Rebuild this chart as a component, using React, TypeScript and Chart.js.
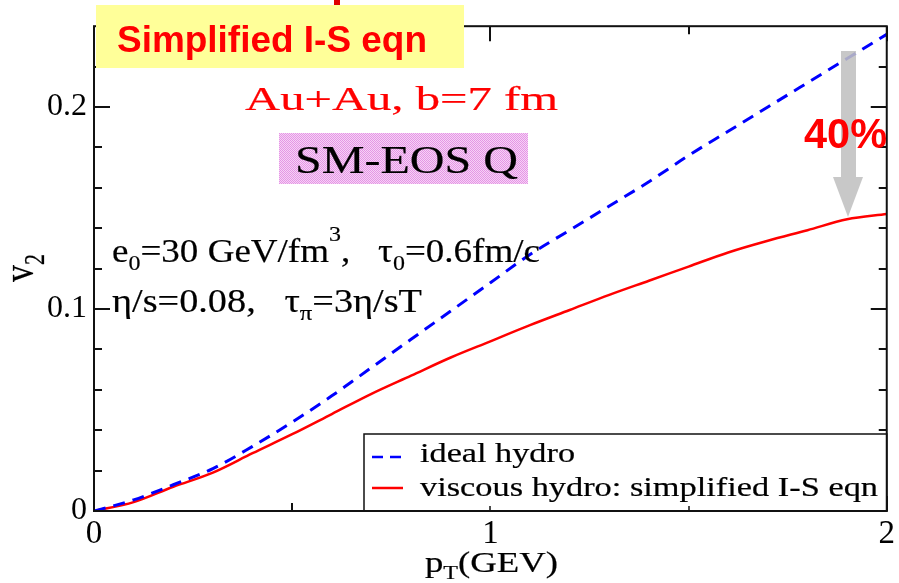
import { useEffect, useRef } from 'react';
import { Chart, registerables } from 'chart.js';

Chart.register(...registerables);

// ---- data ----
const pT = [0, 0.1, 0.2, 0.3, 0.4, 0.5, 0.6, 0.7, 0.8, 0.9, 1.0, 1.1, 1.2, 1.3, 1.4, 1.5, 1.6, 1.7, 1.8, 1.9, 2.0];
const idealHydro = [0, 0.0055, 0.013, 0.021, 0.032, 0.044, 0.057, 0.071, 0.085, 0.099, 0.113, 0.127, 0.139, 0.151, 0.163, 0.176, 0.188, 0.2, 0.212, 0.224, 0.236];
const viscousHydro = [0, 0.0044, 0.012, 0.019, 0.0286, 0.038, 0.048, 0.058, 0.067, 0.076, 0.084, 0.092, 0.0995, 0.107, 0.114, 0.121, 0.128, 0.1338, 0.139, 0.1444, 0.147];
const seriesLabels = ['ideal hydro', 'viscous hydro: simplified I-S eqn'];
const xMajorTicks = [0, 1, 2];
const xMinorTicks = [0.5, 1.5];
const yMajorTicks = [0, 0.1, 0.2];
const yMinorTicks = [0.02, 0.04, 0.06, 0.08, 0.12, 0.14, 0.16, 0.18, 0.22];

const SERIF = '"Liberation Serif", "Times New Roman", Times, serif';
const SANS = '"Liberation Sans", Arial, Helvetica, sans-serif';

type Seg = { t: string; k?: 'sub' | 'sup' };

function drawRich(
  ctx: CanvasRenderingContext2D,
  segs: Seg[],
  o: { x: number; y: number; size: number; family: string; weight?: string; color: string; width?: number; sx?: number; rotate?: boolean; stroke?: number }
) {
  ctx.save();
  const w = o.weight || 'normal';
  const fontFor = (s: Seg) => `${w} ${s.k ? Math.round(o.size * 0.66) : o.size}px ${o.family}`;
  const widths = segs.map((s) => {
    ctx.font = fontFor(s);
    return ctx.measureText(s.t).width;
  });
  const total = widths.reduce((a, b) => a + b, 0);
  const sx = o.sx ?? (o.width ? o.width / total : 1);
  ctx.translate(o.x, o.y);
  ctx.scale(sx, 1);
  if (o.rotate) ctx.rotate(-Math.PI / 2);
  ctx.fillStyle = o.color;
  ctx.strokeStyle = o.color;
  ctx.lineWidth = o.stroke || 0;
  ctx.lineJoin = 'round';
  ctx.textAlign = 'left';
  ctx.textBaseline = 'alphabetic';
  let cx = 0;
  segs.forEach((s, i) => {
    ctx.font = fontFor(s);
    const dy = s.k === 'sub' ? o.size * 0.24 : s.k === 'sup' ? -o.size * 0.62 : 0;
    ctx.fillText(s.t, cx, dy);
    if (o.stroke) ctx.strokeText(s.t, cx, dy);
    cx += widths[i];
  });
  ctx.restore();
}

const decorPlugin = {
  id: 'decor',
  afterDraw(chart: any) {
    const ctx: CanvasRenderingContext2D = chart.ctx;
    const { left, right, top, bottom } = chart.chartArea;
    const xs = chart.scales.x;
    const ys = chart.scales.y;
    ctx.save();

    // ticks (inward, on all four sides)
    ctx.strokeStyle = '#111';
    ctx.lineWidth = 2;
    const MAJ = 15;
    const MIN = 8;
    const tickX = (v: number, len: number) => {
      const px = Math.round(xs.getPixelForValue(v));
      ctx.beginPath();
      ctx.moveTo(px, bottom);
      ctx.lineTo(px, bottom - len);
      ctx.moveTo(px, top);
      ctx.lineTo(px, top + len);
      ctx.stroke();
    };
    const tickY = (v: number, len: number) => {
      const py = Math.round(ys.getPixelForValue(v));
      ctx.beginPath();
      ctx.moveTo(left, py);
      ctx.lineTo(left + len, py);
      ctx.moveTo(right, py);
      ctx.lineTo(right - len, py);
      ctx.stroke();
    };
    xMajorTicks.forEach((v) => tickX(v, MAJ));
    xMinorTicks.forEach((v) => tickX(v, MIN));
    yMajorTicks.forEach((v) => tickY(v, MAJ + 1));
    yMinorTicks.forEach((v) => tickY(v, MIN));

    // legend box
    const lgL = 364, lgT = 434;
    ctx.fillStyle = '#fff';
    ctx.fillRect(lgL, lgT, right - lgL, bottom - lgT);
    ctx.lineWidth = 1.5;
    ctx.strokeStyle = '#111';
    ctx.strokeRect(lgL, lgT, right - lgL, bottom - lgT);
    // tick stubs visible over the legend
    [1, 1.5].forEach((v) => {
      const px = Math.round(xs.getPixelForValue(v));
      ctx.beginPath();
      ctx.moveTo(px, bottom);
      ctx.lineTo(px, bottom - 5);
      ctx.stroke();
    });
    const ds = chart.data.datasets;
    const rowsY = [457, 488];
    const baseY = [462, 496];
    const tw = [155, 458];
    ds.forEach((d: any, i: number) => {
      ctx.beginPath();
      ctx.strokeStyle = d.borderColor;
      ctx.lineWidth = 2.5;
      ctx.setLineDash(i === 0 ? [11, 7] : []);
      ctx.moveTo(372, rowsY[i]);
      ctx.lineTo(403, rowsY[i]);
      ctx.stroke();
      ctx.setLineDash([]);
      drawRich(ctx, [{ t: d.label }], { x: 420, y: baseY[i], size: 27, family: SERIF, color: '#000', width: tw[i], stroke: 0.2 });
    });

    // frame
    ctx.lineWidth = 2;
    ctx.strokeStyle = '#111';
    ctx.strokeRect(left, top, right - left, bottom - top);

    // axis titles
    drawRich(ctx, [{ t: 'p' }, { t: 'T', k: 'sub' }, { t: '(GEV)' }], { x: 425, y: 572, size: 29, family: SERIF, color: '#000', width: 133, stroke: 0.2 });
    drawRich(ctx, [{ t: 'v' }, { t: '2', k: 'sub' }], { x: 33, y: 282, size: 34, family: SERIF, color: '#000', sx: 1.3, rotate: true, stroke: 0.2 });

    // annotation lines
    drawRich(ctx, [
      { t: 'e' }, { t: '0', k: 'sub' }, { t: '=30 GeV/fm' }, { t: '3', k: 'sup' }, { t: ',   \u03c4' }, { t: '0', k: 'sub' }, { t: '=0.6fm/c' },
    ], { x: 112, y: 262, size: 34, family: SERIF, color: '#000', width: 428, stroke: 0.2 });
    drawRich(ctx, [
      { t: '\u03b7/s=0.08,   \u03c4' }, { t: '\u03c0', k: 'sub' }, { t: '=3\u03b7/sT' },
    ], { x: 112, y: 312, size: 34, family: SERIF, color: '#000', width: 310, stroke: 0.2 });

    drawRich(ctx, [{ t: 'Au+Au, b=7 fm' }], { x: 245, y: 110, size: 33, family: SERIF, color: '#ff0000', width: 313, stroke: 0.2 });

    // pink box
    const pc = document.createElement('canvas');
    pc.width = 2; pc.height = 2;
    const pcx = pc.getContext('2d')!;
    pcx.fillStyle = '#f6d2f6'; pcx.fillRect(0, 0, 2, 2);
    pcx.fillStyle = '#e596e5'; pcx.fillRect(0, 0, 1, 1); pcx.fillRect(1, 1, 1, 1);
    const pat = ctx.createPattern(pc, 'repeat');
    ctx.fillStyle = pat || '#eeb5ee';
    ctx.fillRect(279, 133, 249, 51);
    drawRich(ctx, [{ t: 'SM-EOS Q' }], { x: 295, y: 173, size: 40, family: SERIF, color: '#000', width: 223, stroke: 0.2 });

    // yellow box + title
    ctx.fillStyle = '#ffff99';
    ctx.fillRect(96, 5, 368, 63);
    drawRich(ctx, [{ t: 'Simplified I-S eqn' }], { x: 117, y: 52, size: 37, family: SANS, weight: 'bold', color: '#ff0000', width: 310 });
    ctx.fillStyle = '#e00000';
    ctx.fillRect(334, 0, 6, 5);

    // grey arrow
    ctx.fillStyle = 'rgba(192,192,192,0.88)';
    ctx.beginPath();
    ctx.moveTo(841, 51);
    ctx.lineTo(856, 51);
    ctx.lineTo(856, 177);
    ctx.lineTo(863, 177);
    ctx.lineTo(848, 217);
    ctx.lineTo(833, 177);
    ctx.lineTo(841, 177);
    ctx.closePath();
    ctx.fill();
    drawRich(ctx, [{ t: '40%' }], { x: 804, y: 148, size: 42, family: SANS, weight: 'bold', color: '#ff0000', width: 83 });

    ctx.restore();
  },
};

export default function App() {
  const ref = useRef<HTMLCanvasElement | null>(null);
  useEffect(() => {
    if (!ref.current) return;
    const chart = new Chart(ref.current, {
      type: 'line',
      data: {
        datasets: [
          {
            label: seriesLabels[0],
            data: pT.map((x, i) => ({ x, y: idealHydro[i] })),
            borderColor: '#0000ff',
            borderDash: [12, 8],
            borderWidth: 3,
            pointRadius: 0,
            cubicInterpolationMode: 'monotone',
            fill: false,
          },
          {
            label: seriesLabels[1],
            data: pT.map((x, i) => ({ x, y: viscousHydro[i] })),
            borderColor: '#ff0000',
            borderWidth: 2.5,
            pointRadius: 0,
            cubicInterpolationMode: 'monotone',
            fill: false,
          },
        ],
      },
      options: {
        animation: false,
        responsive: true,
        maintainAspectRatio: false,
        layout: { padding: { top: 24, right: 11, bottom: 0, left: 0 } },
        plugins: { legend: { display: false }, tooltip: { enabled: false } },
        scales: {
          x: {
            type: 'linear',
            min: 0,
            max: 2,
            grid: { display: false, drawTicks: false },
            border: { display: false },
            ticks: {
              stepSize: 1,
              includeBounds: false,
              padding: 4,
              color: '#000',
              font: { family: SERIF, size: 33 },
              callback: (v: any) => String(v),
            },
            afterFit: (s: any) => { s.height = 72; },
          },
          y: {
            type: 'linear',
            min: 0,
            max: 0.24,
            grid: { display: false, drawTicks: false },
            border: { display: false },
            ticks: {
              stepSize: 0.1,
              includeBounds: false,
              padding: 7,
              color: '#000',
              font: { family: SERIF, size: 32 },
              callback: (v: any) => String(Math.round(v * 10) / 10),
            },
            afterFit: (s: any) => { s.width = 94; },
          },
        },
      },
      plugins: [decorPlugin],
    });
    return () => chart.destroy();
  }, []);
  return (
    <div style={{ position: 'fixed', left: 0, top: 0, width: 899, height: 583, background: '#fff' }}>
      <canvas ref={ref} />
    </div>
  );
}
